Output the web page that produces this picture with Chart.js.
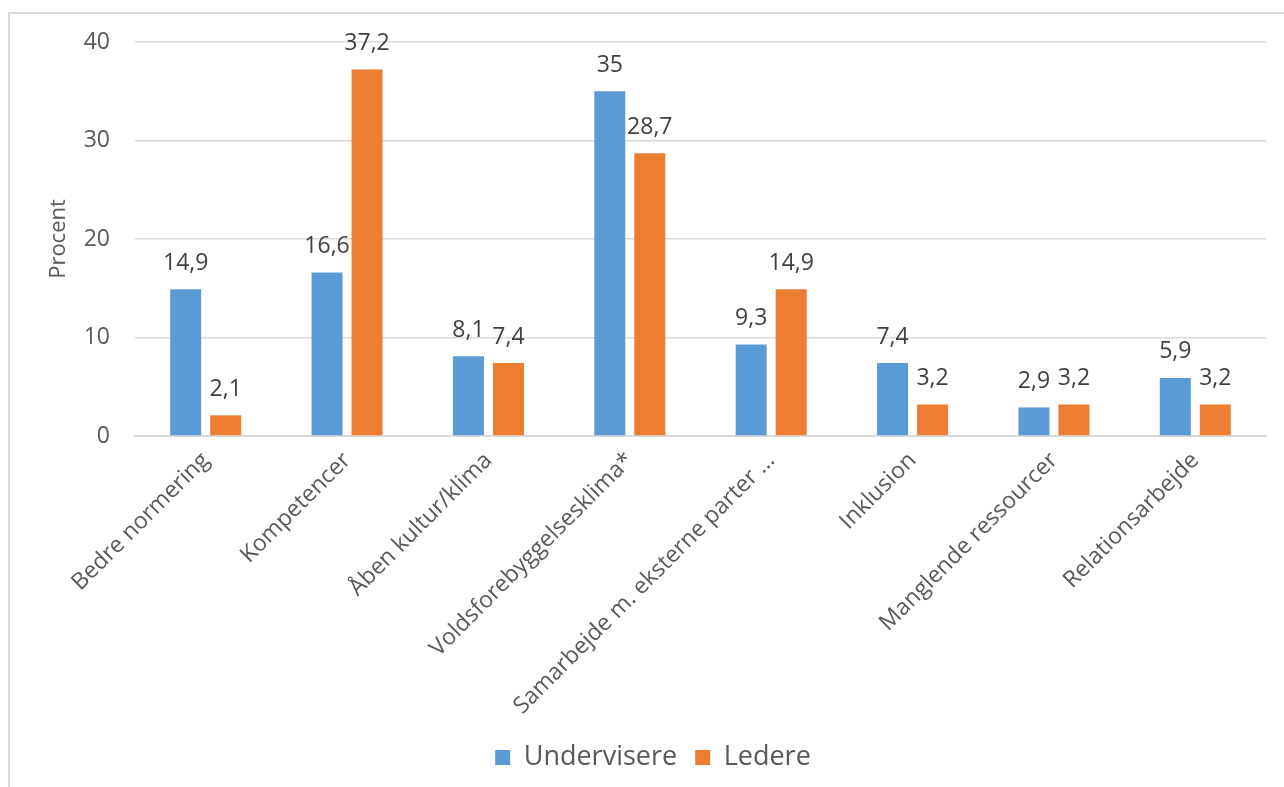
<!DOCTYPE html>
<html>
<head>
<meta charset="utf-8">
<script src="https://cdn.jsdelivr.net/npm/chart.js@4/dist/chart.umd.min.js"></script>
<style>
  html, body { margin: 0; padding: 0; background: #fff; }
  #wrap { width: 1284px; height: 787px; position: relative; }
</style>
</head>
<body>
<div id="wrap"><canvas id="chart" width="1284" height="787"></canvas></div>
<script>
const categories = [
  'Bedre normering',
  'Kompetencer',
  'Åben kultur/klima',
  'Voldsforebyggelsesklima*',
  'Samarbejde m. eksterne parter ...',
  'Inklusion',
  'Manglende ressourcer',
  'Relationsarbejde'
];
const undervisere = [14.9, 16.6, 8.1, 35, 9.3, 7.4, 2.9, 5.9];
const ledere = [2.1, 37.2, 7.4, 28.7, 14.9, 3.2, 3.2, 3.2];
const yTicks = [0, 10, 20, 30, 40];

const fontFamily = "'Open Sans', 'Noto Sans', sans-serif";

// frame around the chart, like the office chart border
const framePlugin = {
  id: 'frame',
  beforeDraw(chart) {
    const c = chart.ctx;
    c.save();
    c.fillStyle = '#fff';
    c.fillRect(0, 0, chart.width, chart.height);
    c.strokeStyle = '#d9d9d9';
    c.lineWidth = 2;
    c.beginPath();
    c.moveTo(9, chart.height + 5);
    c.lineTo(9, 13);
    c.lineTo(chart.width + 5, 13);
    c.stroke();
    c.restore();
  }
};

// value labels above the bars
const valueLabels = {
  id: 'valueLabels',
  afterDatasetsDraw(chart) {
    const c = chart.ctx;
    c.save();
    c.font = '23px ' + fontFamily;
    c.fillStyle = '#404040';
    c.textAlign = 'center';
    c.textBaseline = 'middle';
    chart.data.datasets.forEach((ds, i) => {
      chart.getDatasetMeta(i).data.forEach((bar, j) => {
        const txt = String(ds.data[j]).replace('.', ',');
        c.fillText(txt, bar.x, bar.y - 26);
      });
    });
    c.restore();
  }
};

new Chart(document.getElementById('chart'), {
  type: 'bar',
  data: {
    labels: categories,
    datasets: [
      { label: 'Undervisere', data: undervisere, backgroundColor: '#5b9bd5' },
      { label: 'Ledere', data: ledere, backgroundColor: '#ed7d31' }
    ]
  },
  options: {
    responsive: false,
    animation: false,
    datasets: { bar: { categoryPercentage: 0.566, barPercentage: 0.775 } },
    layout: { padding: { left: 40, right: 18, top: 42, bottom: 6 } },
    plugins: {
      tooltip: { enabled: false },
      legend: {
        position: 'bottom',
        labels: {
          boxWidth: 15,
          boxHeight: 15,
          padding: 18,
          color: '#595959',
          font: { family: fontFamily, size: 27 }
        }
      }
    },
    scales: {
      x: {
        grid: { display: false },
        border: { color: '#d9d9d9', width: 2 },
        ticks: {
          minRotation: 45,
          maxRotation: 45,
          color: '#595959',
          font: { family: fontFamily, size: 23 }
        },
        afterFit(scale) { scale.height = 290; }
      },
      y: {
        min: 0,
        max: 40,
        afterBuildTicks(scale) { scale.ticks = yTicks.map(v => ({ value: v })); },
        grid: { color: '#d9d9d9', lineWidth: 1.5, drawTicks: false },
        border: { display: false },
        ticks: {
          padding: 25,
          color: '#595959',
          font: { family: fontFamily, size: 23 }
        },
        title: {
          display: true,
          text: 'Procent',
          color: '#595959',
          font: { family: fontFamily, size: 22 },
          padding: { top: 6, bottom: 0 }
        },
        afterFit(scale) { scale.width = 95; }
      }
    }
  },
  plugins: [framePlugin, valueLabels]
});
</script>
</body>
</html>
